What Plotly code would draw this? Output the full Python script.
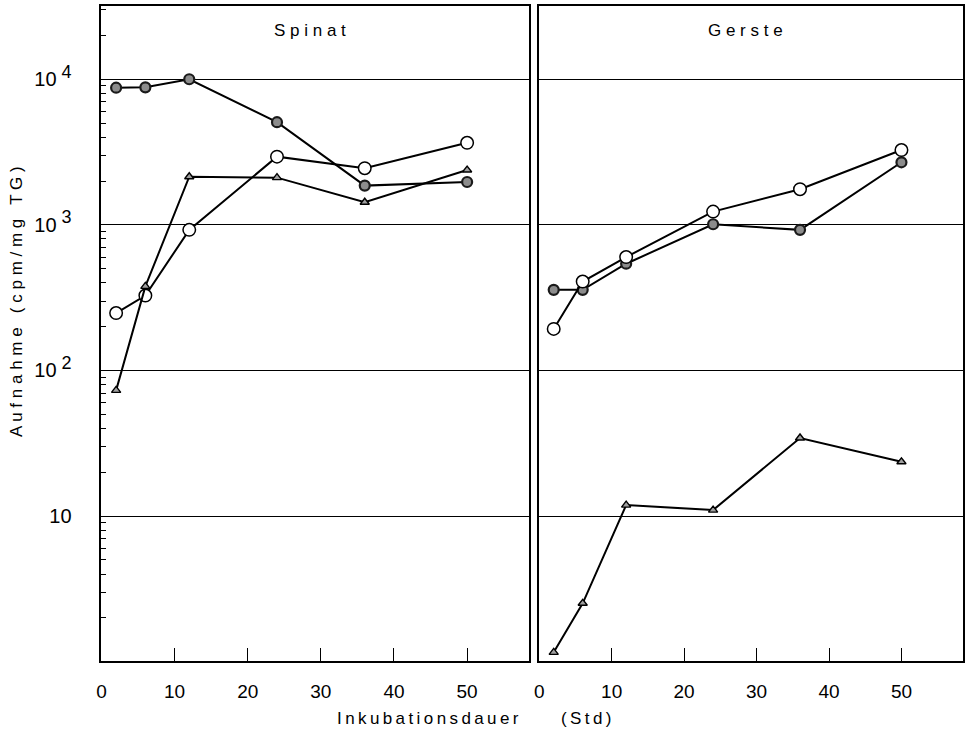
import plotly.graph_objects as go

# Incubation time (h)
hours = [2, 6, 12, 24, 36, 50]

# Spinat (cpm/mg TG)
spinat_filled = [8750, 8800, 10000, 5070, 1860, 1970]
spinat_open = [248, 327, 924, 2940, 2450, 3660]
spinat_tri = [73, 378, 2140, 2110, 1430, 2380]

# Gerste (cpm/mg TG)
gerste_filled = [358, 358, 541, 1010, 924, 2690]
gerste_open = [193, 408, 601, 1233, 1758, 3265]
gerste_tri = [1.16, 2.52, 11.9, 11.0, 34.4, 23.6]

x_ticks = [0, 10, 20, 30, 40, 50]
y_major = [10, 100, 1000, 10000]
y_major_exp = ["", "2", "3", "4"]
y_minor = [k * 10 ** d for d in range(0, 5) for k in range(2, 10) if k * 10 ** d < 31000]

FONT = "Liberation Sans, Arial, sans-serif"
SUP = '<sup><span style="font-size:18px"> {}</span></sup>'
THIN = "\u2009"
NBSP = "\u00a0"

def spaced(s, sep=" "):
    return sep.join(s)

y_major_text = ["10" + (SUP.format(e) if e else "") for e in y_major_exp]

marker_open = dict(symbol="circle", size=12.5, color="white", line=dict(color="black", width=1.5))
marker_filled = dict(symbol="circle", size=10, color="#8c8c8c", line=dict(color="#1a1a1a", width=2.2))
marker_tri = dict(symbol="triangle-up", size=8, color="#a0a0a0", line=dict(color="black", width=1.4))
line_style = dict(color="black", width=2)

fig = go.Figure()

for xa, ya, series in [
    ("x", "y", [(spinat_filled, marker_filled), (spinat_open, marker_open), (spinat_tri, marker_tri)]),
    ("x2", "y2", [(gerste_filled, marker_filled), (gerste_open, marker_open), (gerste_tri, marker_tri)]),
]:
    for vals, mk in series:
        fig.add_trace(go.Scatter(
            x=hours, y=vals, mode="lines+markers", xaxis=xa, yaxis=ya,
            line=line_style, marker=mk, showlegend=False, cliponaxis=False,
        ))

x_common = dict(
    range=[0, 58.5], tickvals=x_ticks, ticktext=[str(v) for v in x_ticks],
    ticks="inside", ticklen=13, tickwidth=1.3, tickcolor="black",
    showline=True, linecolor="black", linewidth=1.8, mirror=True,
    showgrid=False, zeroline=False, ticklabelstandoff=12,
    tickfont=dict(family=FONT, size=19, color="black"),
)
y_common = dict(
    type="log", range=[0.005, 4.503],
    tickvals=y_major, showgrid=True, gridcolor="black", gridwidth=1.2,
    showline=True, linecolor="black", linewidth=1.8, mirror=True,
    zeroline=False,
)

fig.update_layout(
    width=967, height=731,
    margin=dict(l=0, r=0, t=0, b=0),
    paper_bgcolor="white", plot_bgcolor="white",
    xaxis=dict(domain=[97 / 967, 527 / 967], anchor="y", **x_common),
    xaxis2=dict(domain=[537 / 967, 963 / 967], anchor="y2", **x_common),
    yaxis=dict(
        domain=[1 - 661 / 731, 1 - 6 / 731], anchor="x",
        ticktext=y_major_text, ticks="inside", ticklen=5, tickcolor="black",
        ticklabelstandoff=24,
        tickfont=dict(family=FONT, size=20, color="black"),
        minor=dict(tickvals=y_minor, ticks="inside", ticklen=5, tickcolor="black",
                   tickwidth=1, showgrid=False),
        **y_common,
    ),
    yaxis2=dict(
        domain=[1 - 661 / 731, 1 - 6 / 731], anchor="x2",
        showticklabels=False, ticks="",
        **y_common,
    ),
    annotations=[
        dict(text=spaced("Spinat"), xref="x", yref="paper", x=28.5, y=1 - 30 / 731,
             xanchor="center", yanchor="middle",
             showarrow=False, font=dict(family=FONT, size=17, color="black")),
        dict(text=spaced("Gerste"), xref="x2", yref="paper", x=28.5, y=1 - 30 / 731,
             xanchor="center", yanchor="middle",
             showarrow=False, font=dict(family=FONT, size=17, color="black")),
        dict(text=spaced("Inkubationsdauer", THIN) + NBSP * 9 + spaced("(Std)", THIN),
             xref="paper", yref="paper", x=471 / 967, y=1 - 718 / 731,
             xanchor="center", yanchor="middle",
             showarrow=False, font=dict(family=FONT, size=17, color="black")),
        dict(text=spaced("Aufnahme") + "   " + spaced("(cpm/mg") + "   " + spaced("TG)"),
             xref="paper", yref="paper", x=11 / 967, y=1 - 301 / 731, textangle=-90,
             xanchor="center", yanchor="middle",
             showarrow=False, font=dict(family=FONT, size=17, color="black")),
    ],
)

fig.write_html("out.html")
